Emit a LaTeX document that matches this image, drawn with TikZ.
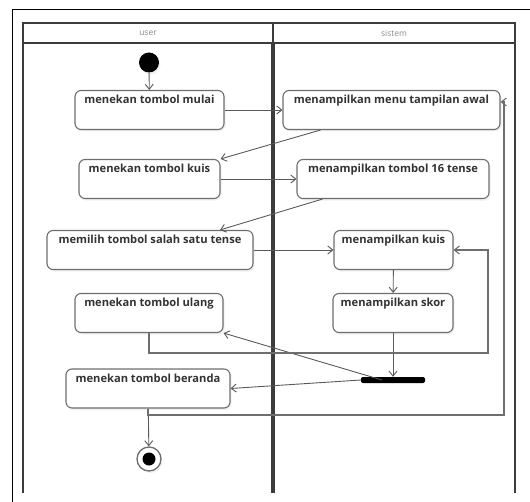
\documentclass[tikz,border=0pt]{standalone}
\usepackage{fontspec}
\setmainfont{Open Sans}
\usetikzlibrary{arrows.meta,calc,shadows}
\definecolor{boxc}{HTML}{6E6E6E}
\definecolor{linec}{HTML}{5A5A5A}
\definecolor{lanec}{HTML}{3C3C3C}
\definecolor{hdrtxt}{HTML}{8A8A8A}
\begin{document}
\begin{tikzpicture}[x=1bp,y=-1bp,
  act/.style={draw=boxc, line width=1.1bp, rounded corners=6bp, fill=white,
    drop shadow={opacity=0.12, shadow xshift=1.5bp, shadow yshift=-2bp},
    inner xsep=0pt, inner ysep=4bp, text height=9bp, text depth=22bp,
    minimum width=#1, font=\fontsize{11.2}{13}\selectfont\bfseries, text=black!80},
  flow/.style={draw=linec, line width=0.9bp, -{Straight Barb[length=5bp,width=8bp]}},
  loopflow/.style={draw=boxc, line width=1.1bp, -{Straight Barb[length=5bp,width=8bp]}},
  lane/.style={draw=lanec, line width=1.8bp},
  hdr/.style={font=\fontsize{8.5}{10}\selectfont, text=hdrtxt}
]
\useasboundingbox (0,0) rectangle (530,502);
% outer frame
\draw[black, line width=1bp] (12,502) -- (12,9.5) -- (530,9.5);
% swimlanes
\draw[lane] (23,493) -- (23,23) -- (515,23) -- (515,493);
\draw[lane] (23,43) -- (515,43);
\draw[lane] (273,23) -- (273,43);
\draw[draw=lanec, line width=3.6bp] (273,43) -- (273,493);
\node[hdr] (huser) at (148,33) {user};
\node[hdr] (hsis) at (394,33) {sistem};
% nodes
\node[circle, fill=black, inner sep=0pt, minimum size=20bp,
  drop shadow={opacity=0.12, shadow xshift=1.5bp, shadow yshift=-2bp}] (start) at (149,62.5) {};
\node[act=149bp] (mulai) at (149.5,110) {menekan tombol mulai};
\node[act=217bp] (awal) at (391.5,110) {menampilkan menu tampilan awal};
\node[act=141bp] (kuis) at (149.5,179) {menekan tombol kuis};
\node[act=192bp] (tense) at (393,179) {menampilkan tombol 16 tense};
\node[act=206bp] (pilih) at (150,250) {memilih tombol salah satu tense};
\node[act=119bp] (tkuis) at (393.5,250) {menampilkan kuis};
\node[act=148bp] (ulang) at (149,313) {menekan tombol ulang};
\node[act=120bp] (skor) at (393,313) {menampilkan skor};
\node[fill=black, rounded corners=2bp, minimum width=64bp, minimum height=6bp, inner sep=0pt] (bar) at (393,380) {};
\node[act=164bp] (beranda) at (148,388.5) {menekan tombol beranda};
\node[circle, draw=boxc, line width=1.3bp, fill=white, inner sep=0pt, minimum size=24bp,
  drop shadow={opacity=0.12, shadow xshift=1.5bp, shadow yshift=-2bp}] (end) at (149,459) {};
\node[circle, fill=black, inner sep=0pt, minimum size=13bp] (endin) at (end.center) {};
% loop corner coordinates
\coordinate (c1) at (488,353);
\coordinate (c2) at (504,415);
\coordinate (awalin) at ([yshift=8bp]awal.east);
% connectors
\draw[flow] (start) -- (mulai);
\draw[flow] (mulai) -- (awal);
\draw[flow] ($(awal.south west)+(38,0)$) -- (kuis.north east);
\draw[flow] (kuis) -- (tense);
\draw[flow] ($(tense.south west)+(26,0)$) -- ($(pilih.north)+(70,0)$);
\draw[flow] (pilih) -- (tkuis);
\draw[flow] (tkuis) -- (skor);
\draw[flow] (skor) -- (bar);
\draw[flow] ($(bar.center)+(-11,0)$) -- (ulang.south east);
\draw[flow] (bar.west) -- (beranda.east);
\draw[flow] (beranda) -- (end);
\draw[loopflow] (ulang.south) |- (c1) |- (tkuis.east);
\draw[loopflow] (beranda.south) |- (c2) |- (awalin);
\end{tikzpicture}
\end{document}
